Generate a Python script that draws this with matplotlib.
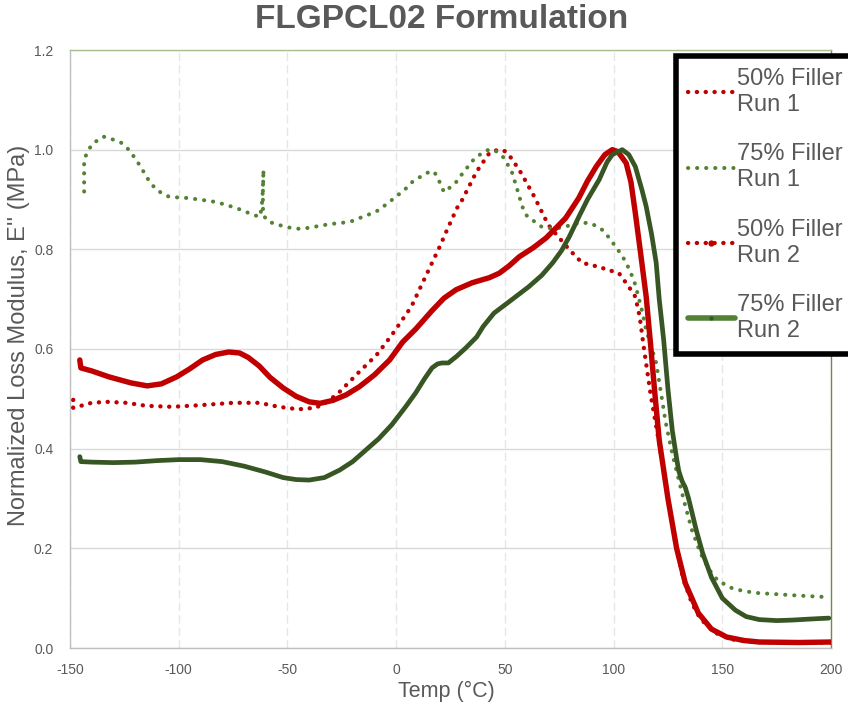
import matplotlib
matplotlib.use("Agg")
import matplotlib.pyplot as plt
from matplotlib.lines import Line2D
from matplotlib import font_manager

names = {f.name for f in font_manager.fontManager.ttflist}
FONT = "Liberation Sans" if "Liberation Sans" in names else "DejaVu Sans"
plt.rcParams["font.family"] = [FONT, "DejaVu Sans"]

TXT = "#595959"
RED = "#C00000"
GREEN_DOT = "#548235"
GREEN_SOLID = "#375623"

# ---------------- data ----------------
t_50_run1 = [-148.5, -149.5, -148.5, -145, -140, -133, -124, -115, -103, -91, -75, -63, -54, -45, -37,
             -31, -26, -17, -9, -2, 7, 15, 20, 23, 28, 30, 37, 43, 47, 50, 53, 57.5, 63.5, 70, 75,
             79.5, 85.5, 93, 102.5, 107, 110, 112, 114, 117, 119, 121, 125, 128.8, 132, 136, 140,
             147, 155, 165, 180, 200]
v_50_run1 = [0.498, 0.490, 0.482, 0.486, 0.492, 0.494, 0.492, 0.486, 0.484, 0.487, 0.492, 0.492, 0.484,
             0.479, 0.482, 0.496, 0.514, 0.554, 0.588, 0.628, 0.685, 0.759, 0.805, 0.835, 0.883, 0.896,
             0.956, 0.994, 1.0, 0.997, 0.983, 0.953, 0.906, 0.849, 0.823, 0.80, 0.773, 0.765, 0.752,
             0.725, 0.705, 0.665, 0.60, 0.51, 0.46, 0.41, 0.30, 0.203, 0.14, 0.09, 0.058, 0.030,
             0.017, 0.012, 0.011, 0.011]

t_75_run1 = [-143.5, -143.5, -143.5, -142, -140, -137, -134.5, -130, -126.5, -123, -119.6, -117, -114.5,
             -111, -107, -104, -96, -89, -83, -78, -73, -69, -65, -62.5, -61.5, -61.2, -61, -61.3,
             -61.2, -60, -58.4, -54, -50.6, -47, -43.7, -39, -35.4, -30, -25, -20, -15, -10, -8, -4,
             0, 4, 7.4, 12, 15, 17.5, 20, 22, 25, 27.6, 31, 33.6, 36, 39.5, 42, 45, 48, 49.7, 53.4,
             55.7, 58, 60, 62.6, 67, 71, 75, 80, 84, 88.8, 92, 94.8, 98, 101, 103.5, 105.8, 108,
             110, 113, 115, 119.6, 124, 127, 130, 133, 136, 140, 144, 148, 154.5, 160, 167, 175,
             182, 190, 199]
v_75_run1 = [0.916, 0.95, 0.98, 0.995, 1.01, 1.02, 1.026, 1.02, 1.014, 1.0, 0.98, 0.962, 0.943,
             0.923, 0.91, 0.905, 0.903, 0.899, 0.895, 0.889, 0.882, 0.875, 0.868, 0.866, 0.90, 0.935,
             0.96, 0.91, 0.87, 0.862, 0.855, 0.849, 0.845, 0.842, 0.841, 0.844, 0.847, 0.851, 0.853,
             0.857, 0.866, 0.874, 0.879, 0.892, 0.906, 0.92, 0.935, 0.948, 0.955, 0.956, 0.935, 0.915,
             0.925, 0.935, 0.955, 0.969, 0.982, 0.993, 0.999, 1.0, 0.99, 0.983, 0.953, 0.92, 0.886,
             0.868, 0.859, 0.845, 0.842, 0.843, 0.848, 0.853, 0.853, 0.847, 0.839, 0.823, 0.805, 0.79,
             0.773, 0.752, 0.729, 0.678, 0.638, 0.572, 0.452, 0.39, 0.337, 0.285, 0.237, 0.19, 0.157,
             0.135, 0.12, 0.114, 0.11, 0.108, 0.106, 0.104, 0.102]

t_50_run2 = [-145.5, -145, -140, -132, -122, -114.5, -108, -101, -95, -89, -83, -77, -72, -68, -63, -58,
             -52, -46, -40, -35, -29, -23, -17, -10, -3, 3, 9, 16.5, 22, 27.6, 35, 42.8, 47.4, 52,
             56.6, 63, 69, 74, 78, 84, 88, 92, 96, 99.4, 102, 105.8, 108, 110, 112.5, 115, 117, 119,
             121, 125, 129, 133, 139, 145, 152, 160, 167, 185, 200]
v_50_run2 = [0.578, 0.562, 0.556, 0.544, 0.532, 0.526, 0.530, 0.544, 0.560, 0.578, 0.589, 0.594, 0.592,
             0.583, 0.566, 0.543, 0.522, 0.505, 0.494, 0.491, 0.497, 0.508, 0.524, 0.548, 0.578, 0.614,
             0.640, 0.677, 0.702, 0.719, 0.733, 0.743, 0.752, 0.767, 0.785, 0.803, 0.823, 0.845, 0.863,
             0.903, 0.937, 0.966, 0.99, 1.0, 0.996, 0.973, 0.935, 0.873, 0.79, 0.705, 0.61, 0.51, 0.417,
             0.30, 0.20, 0.13, 0.07, 0.038, 0.022, 0.015, 0.012, 0.011, 0.012]

t_75_run2 = [-145.5, -145, -140, -130, -120, -110, -100, -90, -80, -70, -60, -52, -46, -40, -33, -26, -20,
             -14, -8, -2, 4, 9, 13, 16.5, 19, 21, 24, 28, 32, 37, 40, 45, 52, 61, 67, 72, 76, 79.6, 84,
             88, 93.4, 97, 99.4, 104, 107, 110, 113, 115, 117.5, 119.6, 121, 123, 125, 127, 129, 130,
             131.5, 133, 134.5, 138, 141, 145, 150, 156, 161, 167, 175, 182, 190, 199]
v_75_run2 = [0.384, 0.374, 0.373, 0.372, 0.373, 0.376, 0.378, 0.378, 0.374, 0.365, 0.353, 0.342, 0.338,
             0.337, 0.342, 0.357, 0.374, 0.397, 0.420, 0.448, 0.482, 0.512, 0.540, 0.562, 0.570, 0.572,
             0.572, 0.586, 0.602, 0.624, 0.645, 0.672, 0.695, 0.725, 0.748, 0.773, 0.797, 0.825, 0.865,
             0.90, 0.94, 0.975, 0.99, 1.0, 0.99, 0.966, 0.92, 0.886, 0.83, 0.773, 0.70, 0.62, 0.52,
             0.437, 0.38, 0.355, 0.335, 0.322, 0.30, 0.237, 0.19, 0.142, 0.10, 0.076, 0.063, 0.057,
             0.055, 0.056, 0.058, 0.060]

labels = ["50% Filler\nRun 1", "75% Filler\nRun 1", "50% Filler\nRun 2", "75% Filler\nRun 2"]
x_ticks = [-150, -100, -50, 0, 50, 100, 150, 200]
y_ticks = [0.0, 0.2, 0.4, 0.6, 0.8, 1.0, 1.2]

# ---------------- figure ----------------
fig = plt.figure(figsize=(8.48, 7.11), dpi=100)
ax = fig.add_axes([70 / 848, 1 - 648 / 711, 761 / 848, 598 / 711])

dot_r = (0, (0.05, 2.0))
dot_g = (0, (0.05, 2.2))
ax.plot(t_50_run1, v_50_run1, color=RED, lw=3.1, linestyle=dot_r, dash_capstyle="round", zorder=3)
ax.plot(t_75_run1, v_75_run1, color=GREEN_DOT, lw=2.9, linestyle=dot_g, dash_capstyle="round", zorder=3)
ax.plot(t_50_run2, v_50_run2, color=RED, lw=3.9, solid_capstyle="round", solid_joinstyle="round", zorder=4)
ax.plot(t_75_run2, v_75_run2, color=GREEN_SOLID, lw=3.4, solid_capstyle="round", solid_joinstyle="round", zorder=5)

ax.set_xlim(-150, 200)
ax.set_ylim(0, 1.2)
ax.set_xticks(x_ticks)
ax.set_yticks(y_ticks)
ax.set_xticklabels([str(v) for v in x_ticks])
ax.set_yticklabels([f"{v:.1f}" for v in y_ticks])
ax.tick_params(length=0, labelsize=10, labelcolor=TXT)
ax.tick_params(axis="y", pad=12)
ax.tick_params(axis="x", pad=11)

ax.yaxis.grid(True, color="#D9D9D9", lw=1.0, zorder=0)
ax.xaxis.grid(True, color="#E6E6E6", lw=1.0, linestyle=(0, (6, 3)), zorder=0)
ax.set_axisbelow(True)

ax.spines["left"].set_color("#BFBFBF")
ax.spines["bottom"].set_color("#BFBFBF")
ax.spines["top"].set_color("#A9BF94")
ax.spines["right"].set_color("#6B8E4E")
for s in ax.spines.values():
    s.set_linewidth(1.0)

ax.set_xlabel("Temp (°C)", fontsize=15.5, color=TXT)
ax.set_ylabel("Normalized Loss Modulus, E'' (MPa)", fontsize=17, color=TXT)
ax.xaxis.set_label_coords(0.495, -0.055)
ax.yaxis.set_label_coords(-0.053, 0.523)

fig.text(442 / 848, 1 - 19 / 711, "FLGPCL02 Formulation", fontsize=24, fontweight="bold",
         color=TXT, ha="center", va="center")

handles = [
    Line2D([], [], color=RED, lw=3.1, linestyle=dot_r, dash_capstyle="round"),
    Line2D([], [], color=GREEN_DOT, lw=2.9, linestyle=dot_g, dash_capstyle="round"),
    Line2D([], [], color=RED, lw=3.1, linestyle=dot_r, dash_capstyle="round", marker="o", ms=4.5,
           markeredgewidth=0),
    Line2D([], [], color=GREEN_DOT, lw=4.0, solid_capstyle="round", marker="o", ms=3,
           markerfacecolor=GREEN_SOLID, markeredgewidth=0),
]
leg = fig.legend(handles, labels, loc="upper left", bbox_to_anchor=(676 / 848, 1 - 56 / 711),
                 borderaxespad=0, frameon=True, fancybox=False, framealpha=1.0, fontsize=17,
                 labelcolor=TXT, handlelength=2.0, handletextpad=0.08, labelspacing=1.15,
                 borderpad=0.5, numpoints=1)
leg.get_frame().set_edgecolor("black")
leg.get_frame().set_linewidth(4.0)
for t in leg.get_texts():
    t.set_linespacing(1.25)

fig.savefig("out.png", dpi=100)
